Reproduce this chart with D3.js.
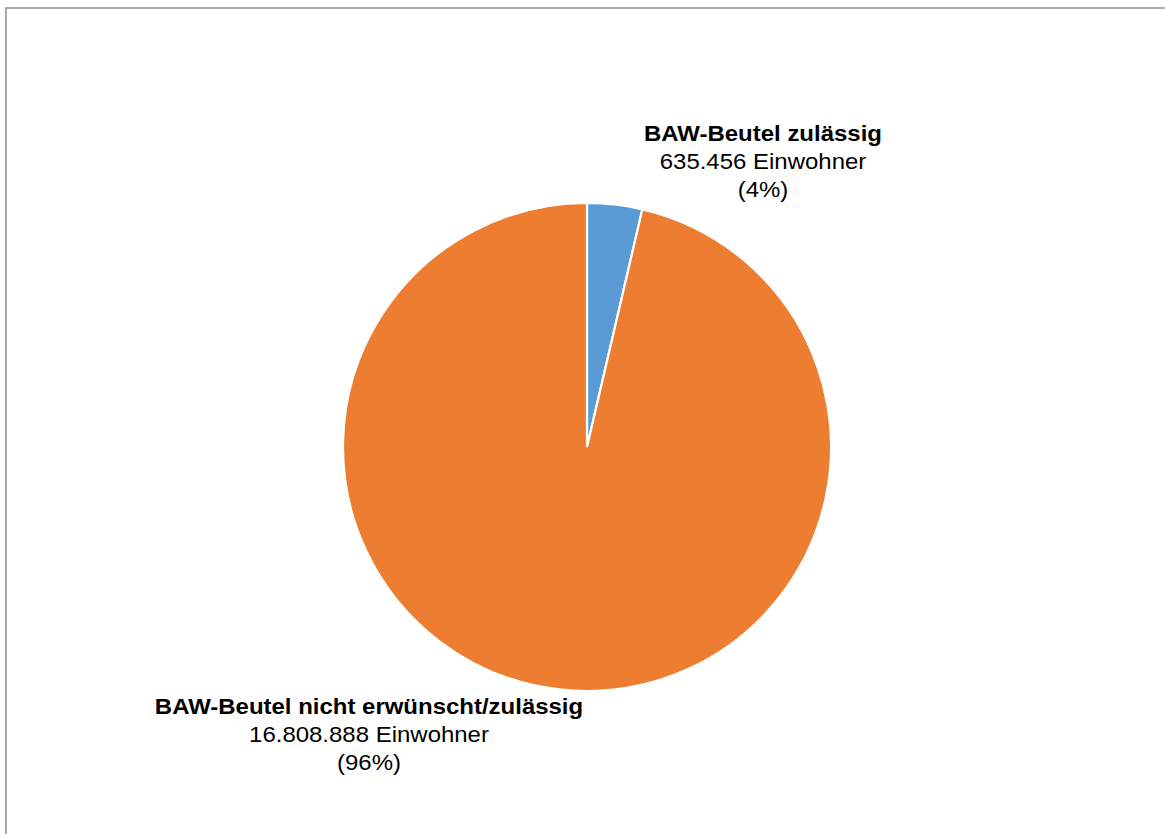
<!DOCTYPE html>
<html>
<head>
<meta charset="utf-8">
<script src="https://cdn.jsdelivr.net/npm/d3@7"></script>
<style>
  html, body { margin: 0; padding: 0; background: #ffffff; }
  svg { display: block; }
</style>
</head>
<body>
<svg id="chart" width="1165" height="834"></svg>
<script>
// Einwohner nach Zulässigkeit des BAW-Beutels
const categories = ["BAW-Beutel zulässig", "BAW-Beutel nicht erwünscht/zulässig"];
const values = [635456, 16808888];
const valueLabels = ["635.456 Einwohner", "16.808.888 Einwohner"];
const percentLabels = ["(4%)", "(96%)"];
const colors = ["#5B9BD5", "#ED7D31"];

const svg = d3.select("#chart");
const W = 1165, H = 834;

// plot frame (open to the right and bottom edge)
svg.append("rect")
  .attr("x", 6).attr("y", 8)
  .attr("width", W + 20).attr("height", H + 20)
  .attr("fill", "#ffffff")
  .attr("stroke", "#ababab")
  .attr("stroke-width", 2);

const cx = 587, cy = 447, r = 244;

const pie = d3.pie().sort(null).value(d => d)
  .startAngle(0).endAngle(2 * Math.PI);
const arc = d3.arc().innerRadius(0).outerRadius(r);

const g = svg.append("g").attr("transform", `translate(${cx},${cy})`);
g.selectAll("path")
  .data(pie(values))
  .join("path")
  .attr("d", arc)
  .attr("fill", (d, i) => colors[i])
  .attr("stroke", "#ffffff")
  .attr("stroke-width", 2.2)
  .attr("stroke-linejoin", "miter");

// data labels: anchor point relative to the pie centre
const labelAnchors = [[176, -314], [-218, 259]];
const fontSize = 22, stretch = 1.09, lineStep = 28;

categories.forEach((cat, i) => {
  const [dx, dy] = labelAnchors[i];
  const lg = svg.append("g")
    .attr("transform", `translate(${cx + dx},${cy + dy}) scale(${stretch},1)`)
    .attr("font-family", "'Liberation Sans', Arial, sans-serif")
    .attr("font-size", fontSize)
    .attr("fill", "#000000")
    .attr("text-anchor", "middle");
  const lines = [cat, valueLabels[i], percentLabels[i]];
  lines.forEach((t, k) => {
    lg.append("text")
      .attr("x", 0)
      .attr("y", k * lineStep)
      .attr("dy", "0.35em")
      .attr("font-weight", k === 0 ? "bold" : "normal")
      .text(t);
  });
});
</script>
</body>
</html>
